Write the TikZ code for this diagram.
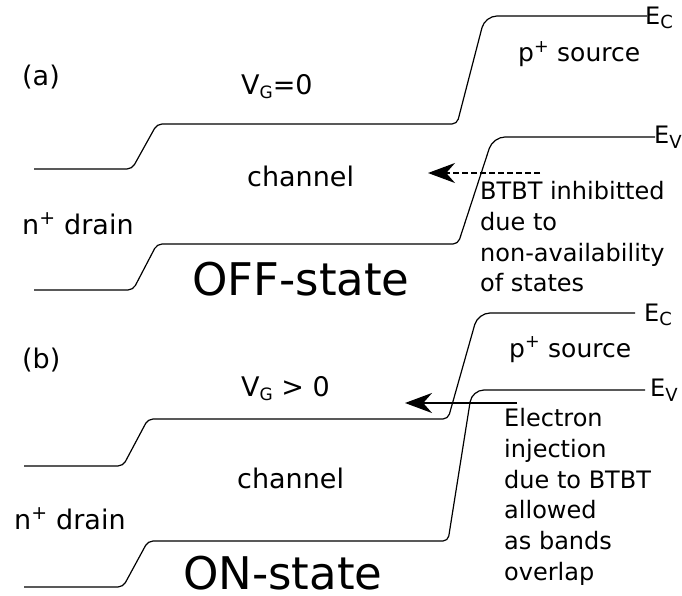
\documentclass[tikz,border=0pt]{standalone}
\usepackage{fontspec}
\setmainfont{DejaVu Sans}
\usetikzlibrary{arrows.meta}
\newcommand{\sub}[2][-4pt]{\raisebox{#1}{\fontsize{18}{18}\selectfont #2}}
\newcommand{\vsub}[1]{\raisebox{-4pt}{\fontsize{17}{17}\selectfont #1}}
\begin{document}
\begin{tikzpicture}[x=1pt,y=-1pt,
  band/.style={line width=1.2pt, rounded corners=5pt},
  lbl/.style={inner sep=0pt, anchor=base west, font=\fontsize{27}{32}\selectfont},
  src/.style={inner sep=0pt, anchor=base west, font=\fontsize{25}{30}\selectfont},
  note/.style={inner sep=0pt, anchor=north west, align=left, font=\fontsize{24}{30.8}\selectfont},
  big/.style={inner sep=0pt, anchor=base west, font=\fontsize{45}{50}\selectfont},
  elab/.style={inner sep=0pt, anchor=base west, font=\fontsize{24}{26}\selectfont},
  arr/.style={-{Stealth[length=27pt,width=20pt]}},
]
\useasboundingbox (0,0) rectangle (682,596);

% ---------- panel (a) ----------
\draw[band] (34,169) -- (132,169) -- (157,124) -- (457,124) [rounded corners=12pt] -- (485,16) -- (647,16);
\draw[band] (34,290) -- (133,290) -- (157,244) -- (458,244) [rounded corners=12pt] -- (493,137) -- (655,137);

\node[elab] (ec1) at (645,25) {E\sub{C}};
\node[elab] (ev1) at (654,144) {E\sub[-5pt]{V}};
\node[lbl] (pa) at (22,86) {(a)};
\node[lbl] (vg1) at (241,95) {V\vsub{G}=0};
\node[lbl] (ch1) at (247,186) {channel};
\node[lbl] (dr1) at (22,234) {n\textsuperscript{+} drain};
\node[big] (off) at (192,295) {OFF-state};
\node[src] (so1) at (518,62) {p\textsuperscript{+} source};
\node[note] (n1) at (480,181) {BTBT inhibitted\\due to\\non-availability\\of states};

\coordinate (a1s) at (540,173);
\coordinate (a1e) at (428,173);
\draw[arr, dashed, dash pattern=on 6pt off 3pt, line width=1.5pt] (a1s) -- (a1e);

% ---------- panel (b) ----------
\draw[band] (24,466) -- (123,466) -- (148,419) -- (448,419) [rounded corners=12pt] -- (478,313) -- (635,313);
\draw[band] (24,587) -- (123,587) -- (148,541) -- (448,541) [rounded corners=12pt] -- (472,390) -- (645,390);

\node[elab] (ec2) at (644,321) {E\sub{C}};
\node[elab] (ev2) at (650,396) {E\sub[-5pt]{V}};
\node[lbl] (pb) at (22,368) {(b)};
\node[lbl] (vg2) at (241,396) {V\vsub{G} > 0};
\node[lbl] (ch2) at (237,488) {channel};
\node[lbl] (dr2) at (14,529) {n\textsuperscript{+} drain};
\node[big] (on) at (183,589) {ON-state};
\node[src] (so2) at (509,357) {p\textsuperscript{+} source};
\node[note] (n2) at (504,408) {Electron\\injection\\due to BTBT\\allowed\\as bands\\overlap};

\coordinate (a2s) at (517,403);
\coordinate (a2e) at (405,403);
\draw[arr, line width=2.2pt] (a2s) -- (a2e);
\end{tikzpicture}
\end{document}
